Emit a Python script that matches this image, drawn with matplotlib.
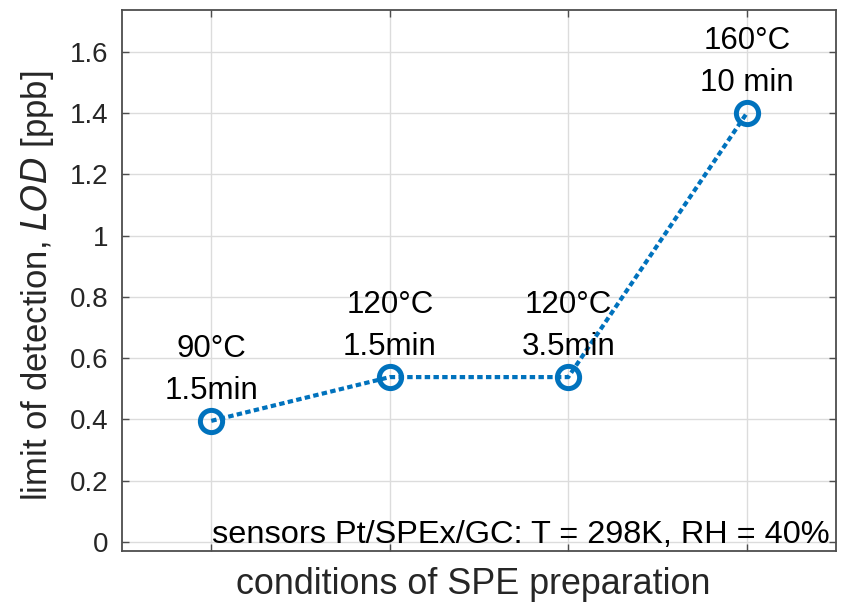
import matplotlib
matplotlib.use("Agg")
import matplotlib.pyplot as plt

plt.rcParams['font.family'] = ['Liberation Sans', 'DejaVu Sans']

conditions = [1, 2, 3, 4]
lod_ppb = [0.395, 0.538, 0.538, 1.40]
temps = ["90°C", "120°C", "120°C", "160°C"]
times = ["1.5min", "1.5min", "3.5min", "10 min"]
yticks = [0, 0.2, 0.4, 0.6, 0.8, 1, 1.2, 1.4, 1.6]
ytick_labels = ["0", "0.2", "0.4", "0.6", "0.8", "1", "1.2", "1.4", "1.6"]

blue = "#0072BD"
gray = "#262626"

fig = plt.figure(figsize=(8.46, 6.04), dpi=100)
ax = fig.add_axes([122/846, 1-551/604, (836-122)/846, (551-10)/604])

ax.plot(conditions, lod_ppb, color=blue, lw=3.0, dashes=(1.3, 0.8),
        marker='o', ms=16, mfc='none', mec=blue, mew=3.6, zorder=3)

for x, y, t, m in zip(conditions, lod_ppb, temps, times):
    ax.annotate(m, (x, y), xytext=(0, 30), textcoords='offset pixels',
                ha='center', va='center', fontsize=22.5, color='black', zorder=4)
    ax.annotate(t, (x, y), xytext=(0, 72), textcoords='offset pixels',
                ha='center', va='center', fontsize=22.5, color='black', zorder=4)

ax.text((212-122)/714, (551-543)/541, "sensors Pt/SPEx/GC: T = 298K, RH = 40%",
        transform=ax.transAxes, ha='left', va='baseline', fontsize=23.4, color='black')

ax.set_xlim(0.5, 4.5)
ax.set_ylim(-0.03, 1.737)
ax.set_xticks(conditions)
ax.set_xticklabels([])
ax.set_yticks(yticks)
ax.set_yticklabels(ytick_labels)

ax.grid(True, color='#dcdcdc', lw=1.0)
ax.set_axisbelow(True)
for s in ax.spines.values():
    s.set_color('#4d4d4d')
    s.set_linewidth(1.3)
ax.tick_params(direction='in', length=5, width=1.0, color='#4d4d4d',
               top=True, right=True, labelsize=20, labelcolor=gray, pad=10)

ax.set_ylabel("limit of detection, $\\it{LOD}$ [ppb]", fontsize=25, color=gray)
ax.yaxis.set_label_coords(-(122-37)/714, 0.5 - 5/541)
ax.set_xlabel("conditions of SPE preparation", fontsize=25.8, color=gray)
ax.xaxis.set_label_coords(0.5 - 6/714, -(585-551)/541)
ax.xaxis.label.set_va('center')
ax.yaxis.label.set_va('center')

fig.savefig("out.png", dpi=100)
